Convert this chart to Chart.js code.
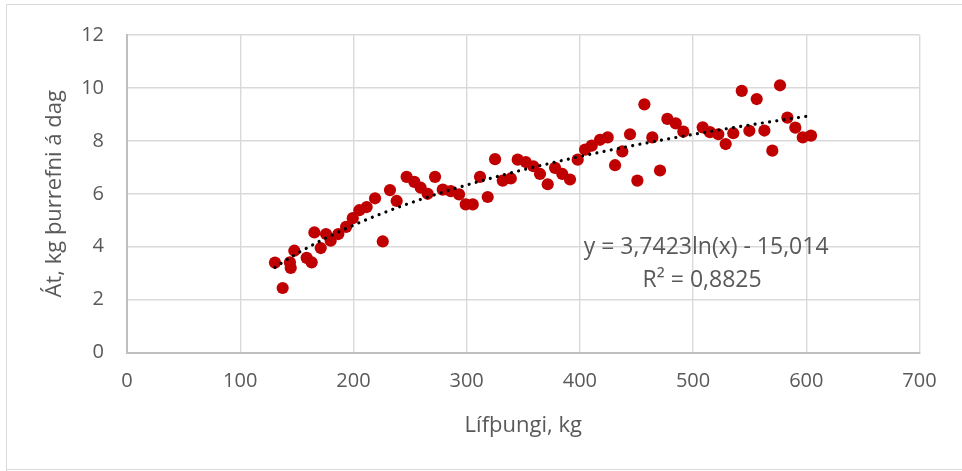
<!DOCTYPE html>
<html>
<head>
<meta charset="utf-8">
<script src="https://cdn.jsdelivr.net/npm/chart.js@4"></script>
<style>
  html, body { margin: 0; padding: 0; background: #ffffff; }
  #wrap { width: 962px; height: 471px; position: relative; }
</style>
</head>
<body>
<div id="wrap"><canvas id="c" width="962" height="471"></canvas></div>
<script>
// Body weight (kg) of each animal
const bodyWeight = [130.7, 137.5, 143.9, 144.6, 147.8, 158.7, 163.1, 165.5, 171.1, 175.8,
  179.9, 186.7, 193.5, 199.4, 205.2, 211.7, 219.1, 225.9, 232.3, 238.2,
  247.0, 253.8, 259.4, 265.6, 272.1, 278.9, 286.0, 293.3, 299.2, 305.4,
  311.8, 318.6, 325.1, 331.9, 339.0, 345.1, 352.2, 358.9, 364.8, 371.6,
  378.1, 384.5, 391.3, 398.1, 404.6, 410.5, 417.8, 424.6, 431.1, 437.5,
  444.3, 450.8, 457.0, 464.0, 470.8, 477.3, 484.7, 491.4, 508.5, 514.9,
  522.3, 528.8, 535.5, 543.0, 549.7, 556.2, 563.0, 570.0, 576.8, 583.3,
  590.3, 596.9, 604.2];
// Dry matter intake (kg/day)
const intake = [3.40, 2.44, 3.41, 3.20, 3.85, 3.58, 3.41, 4.54, 3.95, 4.48,
  4.23, 4.48, 4.75, 5.08, 5.38, 5.50, 5.83, 4.20, 6.14, 5.73,
  6.64, 6.45, 6.23, 6.00, 6.64, 6.16, 6.10, 5.98, 5.60, 5.60,
  6.64, 5.88, 7.31, 6.50, 6.58, 7.29, 7.20, 7.04, 6.75, 6.36,
  6.98, 6.75, 6.54, 7.29, 7.67, 7.82, 8.04, 8.13, 7.08, 7.60,
  8.25, 6.50, 9.38, 8.13, 6.88, 8.83, 8.66, 8.35, 8.51, 8.33,
  8.25, 7.88, 8.29, 9.89, 8.38, 9.58, 8.39, 7.63, 10.10, 8.88,
  8.50, 8.13, 8.20];
// Logarithmic trendline coefficients (as printed on the chart)
const trendSlope = 3.7423;
const trendIntercept = -15.014;
const trendLabels = ["y = 3,7423ln(x) - 15,014", "R² = 0,8825"];
const xTicks = [0, 100, 200, 300, 400, 500, 600, 700];
const yTicks = [0, 2, 4, 6, 8, 10, 12];
const xTitle = "Lífþungi, kg";
const yTitle = "Át, kg þurrefni á dag";

const scatterPts = bodyWeight.map((x, i) => ({ x: x, y: intake[i] }));
const xMinData = Math.min(...bodyWeight), xMaxData = Math.max(...bodyWeight);
const trendPts = [];
const nSeg = 120;
for (let i = 0; i <= nSeg; i++) {
  const x = xMinData + (xMaxData - xMinData) * i / nSeg;
  trendPts.push({ x: x, y: trendSlope * Math.log(x) + trendIntercept });
}

const FONT = "'Open Sans', 'Noto Sans', sans-serif";
const GREY = '#595959';

const framePlugin = {
  id: 'frame',
  beforeDraw(chart) {
    const ctx = chart.ctx;
    ctx.save();
    ctx.fillStyle = '#ffffff';
    ctx.fillRect(0, 0, chart.width, chart.height);
    ctx.strokeStyle = '#d9d9d9';
    ctx.lineWidth = 1;
    ctx.beginPath();
    ctx.moveTo(6.5, 471);
    ctx.lineTo(6.5, 4.5);
    ctx.lineTo(962, 4.5);
    ctx.moveTo(6.5, 469.5);
    ctx.lineTo(962, 469.5);
    ctx.stroke();
    ctx.restore();
  }
};

const eqPlugin = {
  id: 'eqLabel',
  afterDatasetsDraw(chart) {
    const ctx = chart.ctx;
    const xs = chart.scales.x, ys = chart.scales.y;
    ctx.save();
    ctx.fillStyle = GREY;
    ctx.font = "23px " + FONT;
    ctx.textAlign = 'center';
    ctx.textBaseline = 'middle';
    const cx = xs.getPixelForValue(511.5);
    ctx.fillText(trendLabels[0], cx, ys.getPixelForValue(3.97));
    ctx.fillText(trendLabels[1], cx - 4, ys.getPixelForValue(2.72));
    ctx.restore();
  }
};

new Chart(document.getElementById('c'), {
  type: 'scatter',
  data: {
    datasets: [
      {
        type: 'line',
        label: 'trend',
        data: trendPts,
        order: 0,
        borderColor: '#000000',
        borderWidth: 3.2,
        borderDash: [0.01, 7.3],
        borderCapStyle: 'round',
        pointRadius: 0,
        fill: false,
        tension: 0
      },
      {
        label: 'Át',
        data: scatterPts,
        order: 1,
        backgroundColor: '#C00000',
        borderColor: '#C00000',
        borderWidth: 0,
        pointRadius: 6.1,
        pointHoverRadius: 6.1
      }
    ]
  },
  options: {
    responsive: false,
    animation: false,
    events: [],
    layout: { padding: { left: 0, top: 33, right: 42.5, bottom: 0 } },
    plugins: { legend: { display: false }, tooltip: { enabled: false } },
    scales: {
      x: {
        type: 'linear',
        min: 0, max: 700,
        afterBuildTicks(scale) { scale.ticks = xTicks.map(v => ({ value: v })); },
        afterFit(scale) { scale.height = 118.4; },
        grid: { color: '#d9d9d9', lineWidth: 1.4, drawTicks: false },
        border: { color: '#bfbfbf', width: 2 },
        ticks: { color: GREY, font: { family: FONT, size: 20 }, padding: 17, maxRotation: 0 },
        title: { display: true, text: xTitle, color: GREY, font: { family: FONT, size: 22 }, padding: { top: 0, bottom: 32 } }
      },
      y: {
        type: 'linear',
        min: 0, max: 12,
        afterBuildTicks(scale) { scale.ticks = yTicks.map(v => ({ value: v })); },
        afterFit(scale) { scale.width = 127; },
        grid: { color: '#d9d9d9', lineWidth: 1.4, drawTicks: false },
        border: { color: '#bfbfbf', width: 2 },
        ticks: { color: GREY, font: { family: FONT, size: 20 }, padding: 23 },
        title: { display: true, text: yTitle, color: GREY, font: { family: FONT, size: 22 }, padding: { top: 42, bottom: 0 } }
      }
    }
  },
  plugins: [framePlugin, eqPlugin]
});
</script>
</body>
</html>
